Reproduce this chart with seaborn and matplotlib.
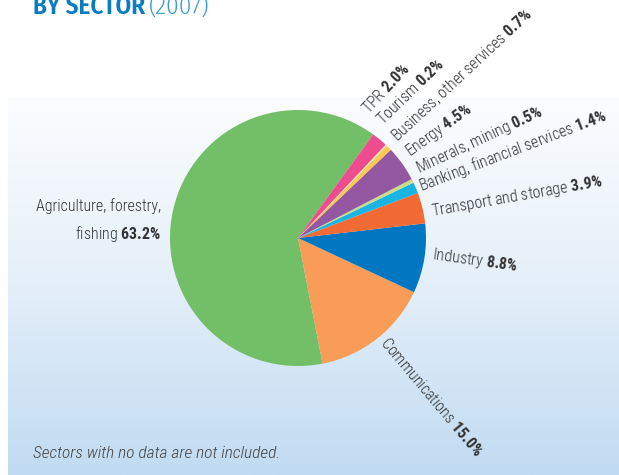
import numpy as np
import matplotlib
matplotlib.use("Agg")
import matplotlib.pyplot as plt
import seaborn as sns
from matplotlib.colors import LinearSegmentedColormap

# data (order: counter-clockwise starting from the top of Agriculture)
sectors = ["Agriculture, forestry,\nfishing", "Communications", "Industry",
           "Transport and storage", "Banking, financial services",
           "Minerals, mining", "Energy", "Business, other services",
           "Tourism", "TPR"]
shares = [63.2, 15.0, 8.8, 3.9, 1.4, 0.5, 4.5, 0.7, 0.2, 2.0]
share_labels = ["63.2%", "15.0%", "8.8%", "3.9%", "1.4%", "0.5%", "4.5%",
                "0.7%", "0.2%", "2.0%"]
colors = ["#72bf67", "#f99c58", "#0077c0", "#f26b34", "#19b4e2",
          "#c8dc8c", "#9457a1", "#fdc84e", "#fbe7b5", "#ee4c8f"]

# label layout: position angle (deg), text rotation, radius
lab_angle = [173, -50, -7, 11, 23, 30, 38, 46, 55, 62]
lab_rot = [0, -50, -8, 10, 21, 25, 36, 43, 44, 47]
lab_rad = [1.08, 1.04, 1.06, 1.06, 1.03, 1.07, 1.08, 1.08, 1.11, 1.12]

sns.set_theme(style="white")
label_font = "Roboto Condensed"
plt.rcParams["font.family"] = [label_font, "DejaVu Sans"]
plt.rcParams["mathtext.fontset"] = "custom"
plt.rcParams["mathtext.rm"] = label_font + ":light"
plt.rcParams["mathtext.bf"] = label_font + ":bold"
plt.rcParams["mathtext.it"] = label_font + ":italic"

W, H = 619, 475
fig = plt.figure(figsize=(W / 100, H / 100), dpi=100)
fig.patch.set_facecolor("white")

# gradient panel
bg = fig.add_axes([8 / W, 0, 1 - 8 / W, (H - 97) / H])
cmap = LinearSegmentedColormap.from_list("bg", ["#fcfdff", "#e4eff9", "#c1dbf2"])
grad = np.linspace(0, 1, 256).reshape(-1, 1)
bg.imshow(grad, aspect="auto", cmap=cmap, extent=[0, 1, 1, 0])
bg.set_axis_off()

# pie
cx, cy, r = 298, 238, 128
ax = fig.add_axes([(cx - r) / W, (H - cy - r) / H, 2 * r / W, 2 * r / H])
ax.pie(shares, colors=colors, startangle=54, counterclock=True,
       wedgeprops=dict(linewidth=0))
ax.set_xlim(-1, 1)
ax.set_ylim(-1, 1)
ax.set_axis_off()

for i, (name, pct) in enumerate(zip(sectors, share_labels)):
    a = np.deg2rad(lab_angle[i])
    x, y = lab_rad[i] * np.cos(a), lab_rad[i] * np.sin(a)
    txt = name + " $\\mathbf{" + pct.replace("%", "\\%") + "}$"
    if i == 0:
        ax.text(x, y, txt, ha="right", va="center", multialignment="right",
                fontsize=11.5, fontweight="light", color="#333333",
                linespacing=1.7, clip_on=False)
    else:
        ax.text(x, y, txt, ha="left", va="center", rotation=lab_rot[i],
                rotation_mode="anchor", fontsize=11.5, fontweight="light",
                color="#333333", clip_on=False)

# title (cut at the top) and footnote
title_font = ["Fira Sans Condensed", "DejaVu Sans"]
t1 = fig.text(33 / W, 1 - 14 / H, "BY SECTOR", fontsize=18, fontweight=600,
              family=title_font, color="#0a7cc2", va="baseline", ha="left")
fig.canvas.draw()
bb = t1.get_window_extent()
fig.text((bb.x1 + 4) / W, 1 - 14 / H, "(2007)", fontsize=18, family=title_font,
         fontweight=300, color="#3d9ad8", va="baseline", ha="left")
fig.text(33 / W, 1 - 458 / H, "Sectors with no data are not included.",
         fontsize=12.5, style="italic", fontweight="light", color="#444444",
         va="baseline", ha="left")

fig.savefig("out.png", dpi=100)
